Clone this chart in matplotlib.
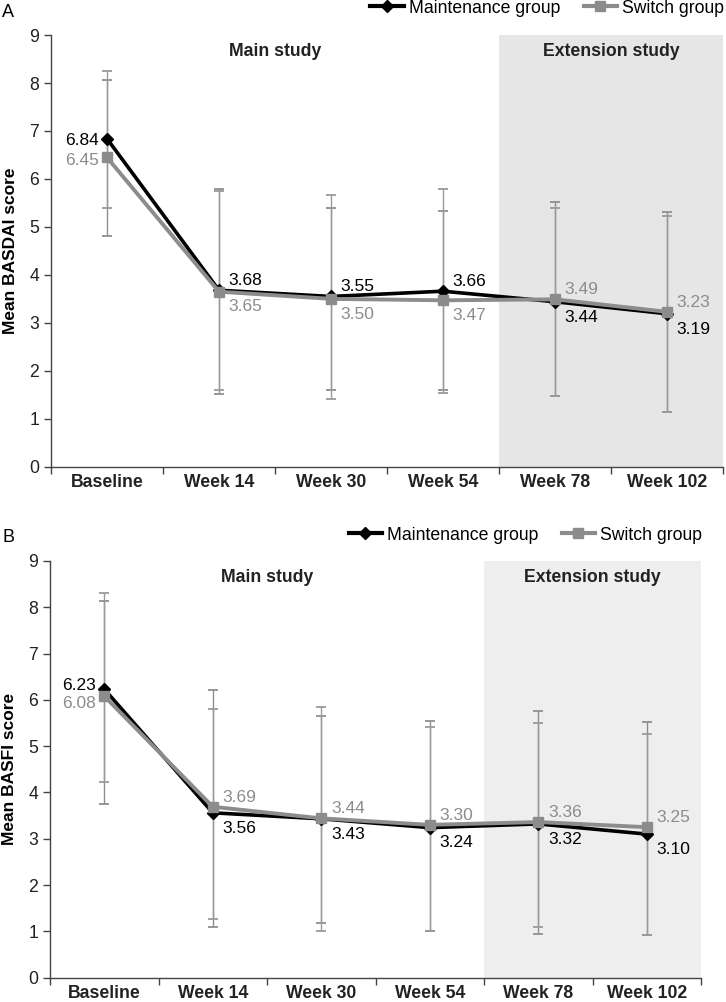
import numpy as np
import matplotlib
matplotlib.use("Agg")
import matplotlib.pyplot as plt
from matplotlib.lines import Line2D

plt.rcParams['font.family'] = ['Liberation Sans', 'DejaVu Sans']

# categories
weeks = ["Baseline", "Week 14", "Week 30", "Week 54", "Week 78", "Week 102"]

# panel A - BASDAI
basdai_maint = [6.84, 3.68, 3.55, 3.66, 3.44, 3.19]
basdai_switch = [6.45, 3.65, 3.50, 3.47, 3.49, 3.23]
# error bar ends
basdai_maint_hi = [8.25, 5.75, 5.67, 5.79, 5.40, 5.23]
basdai_maint_lo = [5.40, 1.60, 1.42, 1.54, 1.47, 1.14]
basdai_switch_hi = [8.07, 5.79, 5.40, 5.33, 5.52, 5.32]
basdai_switch_lo = [4.81, 1.51, 1.60, 1.61, 1.47, 1.14]

# panel B - BASFI
basfi_maint = [6.23, 3.56, 3.43, 3.24, 3.32, 3.10]
basfi_switch = [6.08, 3.69, 3.44, 3.30, 3.36, 3.25]
basfi_maint_hi = [8.30, 5.80, 5.84, 5.42, 5.49, 5.26]
basfi_maint_lo = [4.22, 1.27, 1.01, 1.01, 1.10, 0.92]
basfi_switch_hi = [8.14, 6.22, 5.65, 5.54, 5.75, 5.53]
basfi_switch_lo = [3.75, 1.10, 1.17, 1.01, 0.94, 0.92]

BLACK = '#000000'
GRAY = '#8c8c8c'


def panel(ax, maint, switch, m_hi, m_lo, s_hi, s_lo, ylabel, shade, base_off):
    x = np.arange(len(weeks))
    maint = np.array(maint)
    switch = np.array(switch)

    ax.axvspan(3.5, 5.5, color=shade, zorder=0, lw=0)

    # error bars - light gray stems, caps darker for one group
    eb = ax.errorbar(x, switch, yerr=[switch - np.array(s_lo), np.array(s_hi) - switch],
                     fmt='none', ecolor='#8f8f8f', elinewidth=1, capsize=3.5, capthick=1.3, zorder=2)
    for c in eb[1]:
        c.set_color('#3a3a3a')
    ax.errorbar(x, maint, yerr=[maint - np.array(m_lo), np.array(m_hi) - maint],
                fmt='none', ecolor='#9a9a9a', elinewidth=1, capsize=3.5, capthick=1.3, zorder=2)

    ax.plot(x, maint, color=BLACK, lw=2.6, marker='D', ms=6.5, zorder=3)
    ax.plot(x, switch, color=GRAY, lw=2.8, marker='s', ms=6.5, zorder=4)

    # value labels: higher value above, lower below
    for i in range(len(x)):
        pairs = [(maint[i], BLACK), (switch[i], GRAY)]
        pairs.sort(key=lambda p: -p[0])
        (hv, hc), (lv, lc) = pairs
        if i == 0:
            ax.annotate(f"{hv:.2f}", (x[i], hv), xytext=(-6, base_off[0]), textcoords='offset points',
                        ha='right', va='center', color=hc, fontsize=12.5)
            ax.annotate(f"{lv:.2f}", (x[i], lv), xytext=(-6, base_off[1]), textcoords='offset points',
                        ha='right', va='center', color=lc, fontsize=12.5)
        else:
            ax.annotate(f"{hv:.2f}", (x[i], hv), xytext=(7, 7), textcoords='offset points',
                        ha='left', va='center', color=hc, fontsize=12.5)
            ax.annotate(f"{lv:.2f}", (x[i], lv), xytext=(7, -11), textcoords='offset points',
                        ha='left', va='center', color=lc, fontsize=12.5)

    ax.text(1.5, 8.65, "Main study", ha='center', va='center', fontsize=12.7, fontweight='bold', color='#222222')
    ax.text(4.5, 8.65, "Extension study", ha='center', va='center', fontsize=12.7, fontweight='bold', color='#222222')

    ax.set_xlim(-0.5, 5.5)
    ax.set_ylim(0, 9)
    ax.set_yticks(range(10))
    ax.set_xticks(x)
    ax.set_xticklabels(weeks, fontweight='bold', fontsize=12.7)
    ax.set_xticks(np.arange(-0.5, 6, 1), minor=True)
    ax.tick_params(axis='x', which='major', length=0, pad=5, colors='#222222')
    ax.tick_params(axis='x', which='minor', length=5, width=1, color='#444444')
    ax.tick_params(axis='y', length=5, width=1, color='#444444', labelsize=12.7, labelcolor='#222222')
    ax.set_ylabel(ylabel, fontweight='bold', fontsize=12.5, labelpad=8)
    for s in ['top', 'right']:
        ax.spines[s].set_visible(False)
    for s in ['left', 'bottom']:
        ax.spines[s].set_color('#444444')
        ax.spines[s].set_linewidth(1)


fig = plt.figure(figsize=(7.26, 10.02), dpi=100)
axA = fig.add_axes([0.0702, 0.5342, 0.9256, 0.4308])
axB = fig.add_axes([0.0689, 0.0243, 0.8967, 0.4159])

panel(axA, basdai_maint, basdai_switch, basdai_maint_hi, basdai_maint_lo,
      basdai_switch_hi, basdai_switch_lo, "Mean BASDAI score", '#e6e6e6', (-1, -2))
panel(axB, basfi_maint, basfi_switch, basfi_maint_hi, basfi_maint_lo,
      basfi_switch_hi, basfi_switch_lo, "Mean BASFI score", '#eeeeee', (3, -5))

handles = [Line2D([], [], color=BLACK, lw=3, marker='D', ms=6.5),
           Line2D([], [], color=GRAY, lw=3, marker='s', ms=6.5)]
labels = ["Maintenance group", "Switch group"]
for ax, yy in [(axA, 0.992), (axB, 0.466)]:
    bb = ax.get_position()
    fig.legend(handles, labels, loc='center right', bbox_to_anchor=(bb.x1 + 0.002, yy),
               ncol=2, frameon=False, fontsize=12.7, handlelength=1.9, handletextpad=0.3,
               columnspacing=1.3, borderaxespad=0, borderpad=0)

fig.text(0.003, 0.988, "A", fontsize=13, va='center', ha='left')
fig.text(0.003, 0.464, "B", fontsize=13, va='center', ha='left')

fig.savefig("out.png", dpi=100)
